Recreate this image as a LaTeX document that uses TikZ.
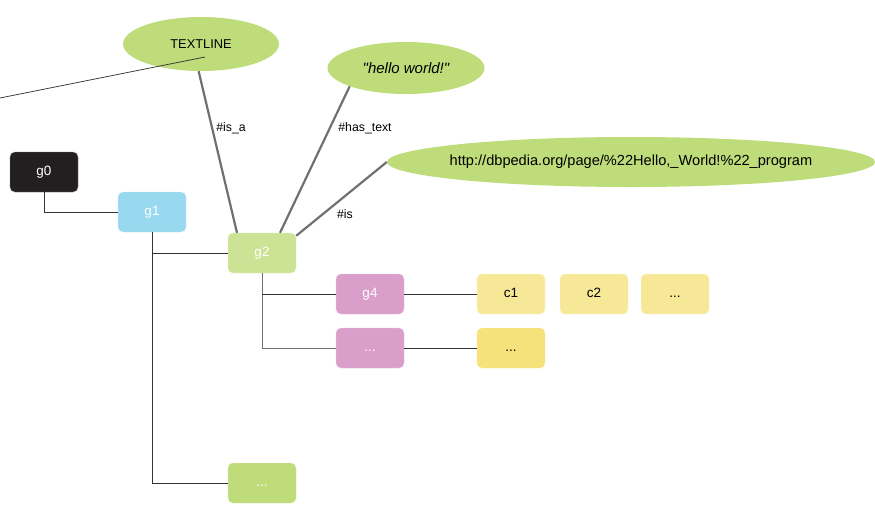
\documentclass[tikz,border=0pt]{standalone}
\usepackage{fontspec}
\setmainfont{Liberation Sans}
\usetikzlibrary{shapes.geometric}
\definecolor{leafgreen}{HTML}{BEDC79}
\definecolor{boxblack}{HTML}{231F20}
\definecolor{boxblue}{HTML}{99D9F0}
\definecolor{boxgreen}{HTML}{CCE396}
\definecolor{boxpink}{HTML}{DA9ECA}
\definecolor{boxyellow}{HTML}{F7E898}
\definecolor{boxgold}{HTML}{F5E27A}
\definecolor{edgegray}{HTML}{707070}
\begin{document}
\begin{tikzpicture}[x=1pt,y=-1pt,
    gbox/.style={rectangle,rounded corners=5pt,minimum width=68pt,minimum height=40pt,
        text height=9pt,text depth=3pt,text=white,font=\fontsize{13.5}{15}\selectfont},
    cbox/.style={gbox,fill=boxyellow,draw=boxyellow!60,text=black},
    blob/.style={ellipse,fill=leafgreen,inner sep=0pt,font=\fontsize{12.8}{14}\selectfont},
    tie/.style={draw=black!80,line width=0.7pt},
    rel/.style={draw=edgegray,line width=2.2pt},
    rellabel/.style={font=\fontsize{12.3}{14}\selectfont}]
    \useasboundingbox (0,0) rectangle (875,507);

    % ellipses
    \node[blob,minimum width=156pt,minimum height=54pt] (textline) at (201,44) {TEXTLINE};
    \node[blob,minimum width=157pt,minimum height=52pt,font=\fontsize{15}{17}\selectfont\itshape] (hello) at (406,68) {\textquotedbl hello world!\textquotedbl};
    \node[blob,minimum width=488pt,minimum height=50pt,inner xsep=-40pt,font=\fontsize{14.6}{16}\selectfont] (url) at (631,162) {http://dbpedia.org/page/\%22Hello,\_World!\%22\_program};

    % boxes
    \node[gbox,fill=boxblack,draw=boxblack!60] (g0) at (44,172) {g0};
    \node[gbox,fill=boxblue,draw=boxblue!60] (g1) at (152,212) {g1};
    \node[gbox,fill=boxgreen,draw=boxgreen!60] (g2) at (262,253) {g2};
    \node[gbox,fill=boxpink,draw=boxpink!60] (g4) at (370,294) {g4};
    \node[gbox,fill=boxpink,draw=boxpink!60] (gdots) at (370,348) {...};
    \node[gbox,fill=leafgreen,draw=leafgreen!60] (g2dots) at (262,483) {...};
    \node[cbox] (c1) at (511,294) {c1};
    \node[cbox] (c2) at (594,294) {c2};
    \node[cbox] (cdots) at (675,294) {...};
    \node[cbox,fill=boxgold,draw=boxgold!60] (cdots2) at (511,348) {...};

    % tree connectors
    \coordinate (start) at (0,98);
    \coordinate (tlend) at (205,57);
    \draw[tie] (start) -- (tlend);
    \draw[tie] (g0.south) |- (g1.west);
    \draw[tie] (g1.south) |- (g2dots.west);
    \draw[tie] (g1.south |- g2.west) -- (g2.west);
    \draw[tie,draw=edgegray] (g2.south) |- (gdots.west);
    \draw[tie] (g2.south |- g4.west) -- (g4.west);
    \draw[tie] (g4.east) -- (c1.west);
    \draw[tie] (gdots.east) -- (cdots2.west);

    % relations
    \draw[rel] ([xshift=-25pt]g2.north) -- (textline.-95);
    \draw[rel] ([xshift=18pt]g2.north) -- (hello.-162);
    \draw[rel] ([yshift=-3pt]g2.north east) -- (url.west);
    \node[rellabel] (isa) at (231,128) {\#is\_a};
    \node[rellabel] (hastext) at (365,128) {\#has\_text};
    \node[rellabel] (is) at (345,214) {\#is};
\end{tikzpicture}
\end{document}
